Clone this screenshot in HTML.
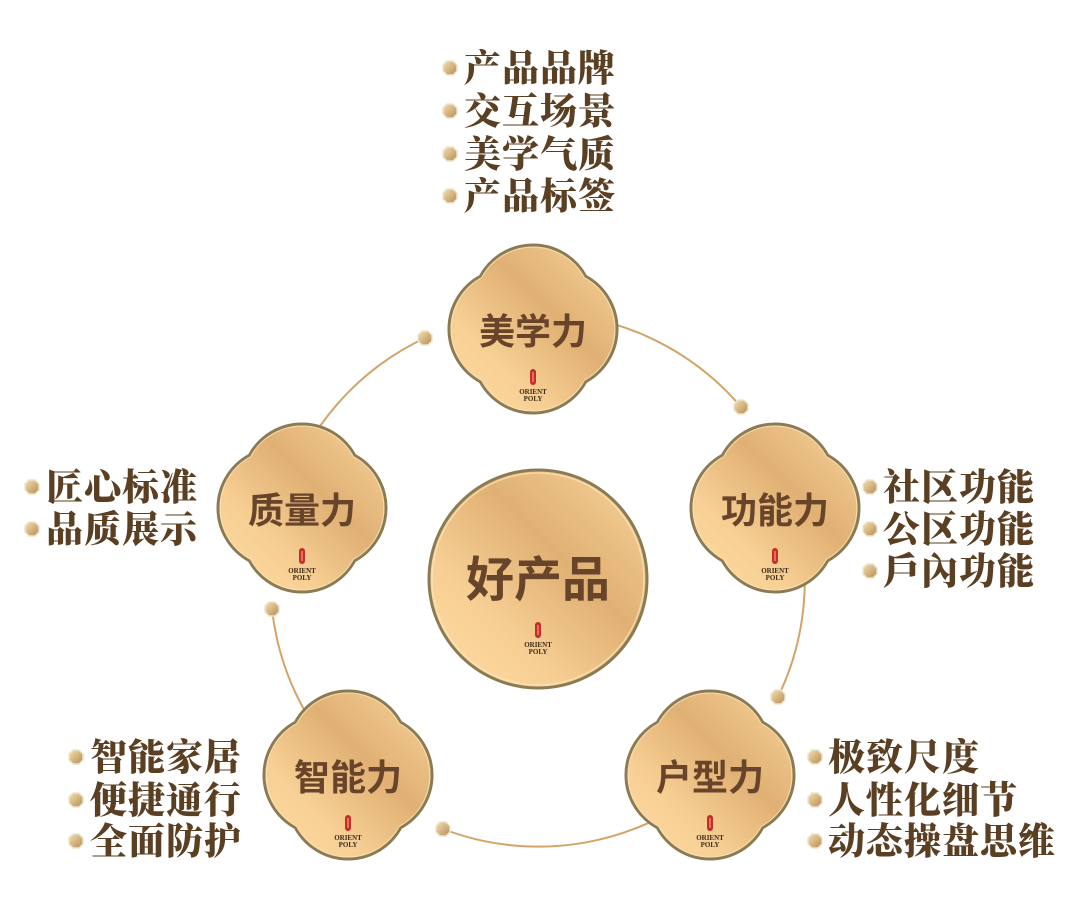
<!DOCTYPE html>
<html><head><meta charset="utf-8"><style>
html,body{margin:0;padding:0;background:#fff;}
svg{display:block}
.lst{font-family:"Liberation Serif","Noto Serif CJK SC",serif;font-weight:900;font-size:37px;fill:#5b3f22;letter-spacing:1px}
.nd{font-family:"Liberation Sans","Noto Sans CJK SC",sans-serif;font-weight:700;fill:#68442a;text-anchor:middle}
.lg{font-family:"Liberation Serif",serif;font-weight:700;font-size:7px;fill:#3a2a1a;text-anchor:middle}
</style></head><body>
<svg width="1080" height="920" viewBox="0 0 1080 920" xmlns="http://www.w3.org/2000/svg">
<defs>
<linearGradient id="g" x1="1" y1="0" x2="0" y2="1">
<stop offset="0" stop-color="#f8d49a"/>
<stop offset="0.4" stop-color="#e0b074"/>
<stop offset="0.7" stop-color="#f7cf94"/>
<stop offset="1" stop-color="#ffdca3"/>
</linearGradient>
<linearGradient id="b" x1="0" y1="0" x2="1" y2="1">
<stop offset="0" stop-color="#f5e0b0"/>
<stop offset="1" stop-color="#b58c55"/>
</linearGradient>
<path id="q" d="M-52.7,-52.7 A60,60 0 0 1 52.7,-52.7 A60,60 0 0 1 52.7,52.7 A60,60 0 0 1 -52.7,52.7 A60,60 0 0 1 -52.7,-52.7 Z"/>
<g id="logo"><rect x="-3" y="-10" width="6" height="16" rx="3" fill="#c0302a"/><rect x="-1" y="-7" width="2" height="10" fill="#f06a5a"/>
<text class="lg" y="15">ORIENT</text><text class="lg" y="22">POLY</text></g>
<g id="dot"><polygon points="-3,-7 3,-7 7,-3 7,3 3,7 -3,7 -7,3 -7,-3" fill="url(#b)" stroke="#efe4cc" stroke-width="1.5"/></g>
<g id="cl"><use href="#q" fill="url(#g)" stroke="#8b7b52" stroke-width="3"/><use href="#q" fill="none" stroke="#fbe6bd" stroke-width="1.2" opacity="0.7" transform="scale(0.975)"/></g>
</defs>
<g fill="none" stroke="#d2a46a" stroke-width="2">
<path d="M533,313 A267,267 0 0 1 741,407"/>
<path d="M793,502 A267,267 0 0 1 778,697"/>
<path d="M715,780 A267,267 0 0 1 443,829"/>
<path d="M352,772 A267,267 0 0 1 272,609"/>
<path d="M283,502 A267,267 0 0 1 425,338"/>
</g>
<use href="#dot" x="425" y="338"/><use href="#dot" x="741" y="407"/><use href="#dot" x="778" y="697"/><use href="#dot" x="443" y="829"/><use href="#dot" x="272" y="609"/>

<circle cx="538" cy="579" r="109" fill="url(#g)" stroke="#8b7b52" stroke-width="3"/>
<circle cx="538" cy="579" r="106" fill="none" stroke="#fbe6bd" stroke-width="1.5" opacity="0.7"/>
<text class="nd" x="538" y="596" font-size="48">好产品</text>
<use href="#logo" x="538" y="632"/>

<g transform="translate(533,329)"><use href="#cl"/><text class="nd" y="15" font-size="36">美学力</text><use href="#logo" y="50"/></g>
<g transform="translate(775,508)"><use href="#cl"/><text class="nd" y="15" font-size="36">功能力</text><use href="#logo" y="50"/></g>
<g transform="translate(710,775)"><use href="#cl"/><text class="nd" y="15" font-size="36">户型力</text><use href="#logo" y="50"/></g>
<g transform="translate(348,775)"><use href="#cl"/><text class="nd" y="15" font-size="36">智能力</text><use href="#logo" y="50"/></g>
<g transform="translate(302,508)"><use href="#cl"/><text class="nd" y="15" font-size="36">质量力</text><use href="#logo" y="50"/></g>

<g class="lst">
<use href="#dot" x="450" y="68"/><text x="464" y="81">产品品牌</text>
<use href="#dot" x="450" y="111"/><text x="464" y="124">交互场景</text>
<use href="#dot" x="450" y="154"/><text x="464" y="167">美学气质</text>
<use href="#dot" x="450" y="196"/><text x="464" y="209">产品标签</text>

<use href="#dot" x="870" y="487"/><text x="883" y="500">社区功能</text>
<use href="#dot" x="870" y="529"/><text x="883" y="542">公区功能</text>
<use href="#dot" x="870" y="571"/><text x="883" y="584">戶內功能</text>

<use href="#dot" x="815" y="757"/><text x="828" y="770">极致尺度</text>
<use href="#dot" x="815" y="800"/><text x="828" y="813">人性化细节</text>
<use href="#dot" x="815" y="841"/><text x="828" y="854">动态操盘思维</text>

<use href="#dot" x="32" y="487"/><text x="46" y="500">匠心标准</text>
<use href="#dot" x="32" y="529"/><text x="46" y="542">品质展示</text>

<use href="#dot" x="76" y="757"/><text x="90" y="770">智能家居</text>
<use href="#dot" x="76" y="800"/><text x="90" y="813">便捷通行</text>
<use href="#dot" x="76" y="841"/><text x="90" y="854">全面防护</text>
</g>
</svg>
</body></html>
